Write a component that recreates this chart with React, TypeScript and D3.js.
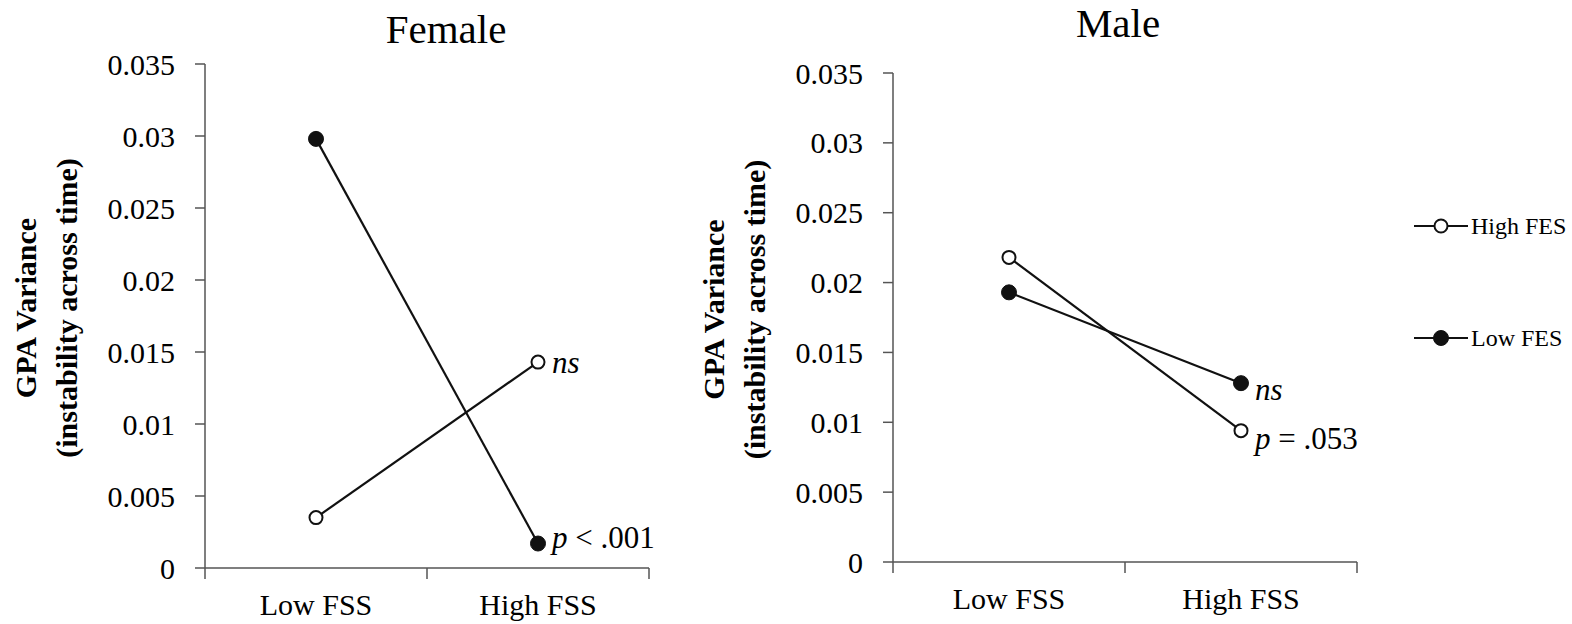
import * as d3 from 'd3'
import React from 'react'

const categories = ['Low FSS', 'High FSS']
const yTicks = [0, 0.005, 0.01, 0.015, 0.02, 0.025, 0.03, 0.035]

const femaleHighFES = [0.0035, 0.0143]
const femaleLowFES = [0.0298, 0.0017]
const maleHighFES = [0.0218, 0.0094]
const maleLowFES = [0.0193, 0.0128]

const serif = '"Liberation Serif", "Times New Roman", serif'
const axisColor = '#555'
const ink = '#111'

const Panel = ({ title, titleX, titleY, left, right, top, bottom, high, low, notes }) => {
  const x = d3.scaleBand().domain(categories).range([left, right])
  const y = d3.scaleLinear().domain([0, 0.035]).range([bottom, top])
  const cx = i => x(categories[i]) + x.bandwidth() / 2
  const line = d3.line().x((d, i) => cx(i)).y(d => y(d))
  const labelY = (top + bottom) / 2 - 8
  const edges = [left, ...categories.map(c => x(c) + x.bandwidth())]

  return (
    <g>
      <text x={titleX} y={titleY} fontSize={41} textAnchor="middle" fontFamily={serif}>{title}</text>
      <g transform={`translate(${left - 180},${labelY}) rotate(-90)`} fontFamily={serif} fontWeight="bold" fontSize={30} textAnchor="middle">
        <text x={0} y={0} dy="0.35em">GPA Variance</text>
        <text x={0} y={41} dy="0.35em">(instability across time)</text>
      </g>
      <line x1={left} x2={left} y1={top} y2={bottom} stroke={axisColor} strokeWidth={1.5} />
      {yTicks.map(t => (
        <g key={t}>
          <line x1={left - 10} x2={left} y1={y(t)} y2={y(t)} stroke={axisColor} strokeWidth={1.5} />
          <text x={left - 30} y={y(t)} dy="0.35em" textAnchor="end" fontSize={30} fontFamily={serif}>{t}</text>
        </g>
      ))}
      <line x1={left} x2={right} y1={bottom} y2={bottom} stroke={axisColor} strokeWidth={1.5} />
      {edges.map((e, i) => (
        <line key={i} x1={e} x2={e} y1={bottom} y2={bottom + 11} stroke={axisColor} strokeWidth={1.5} />
      ))}
      {categories.map(c => (
        <text key={c} x={x(c) + x.bandwidth() / 2} y={bottom + 47} textAnchor="middle" fontSize={30} fontFamily={serif}>{c}</text>
      ))}
      <path d={line(high)} fill="none" stroke={ink} strokeWidth={2.2} />
      <path d={line(low)} fill="none" stroke={ink} strokeWidth={2.2} />
      {high.map((v, i) => (
        <circle key={'h' + i} cx={cx(i)} cy={y(v)} r={6.5} fill="#fff" stroke={ink} strokeWidth={2} />
      ))}
      {low.map((v, i) => (
        <circle key={'l' + i} cx={cx(i)} cy={y(v)} r={7.5} fill={ink} stroke={ink} strokeWidth={1} />
      ))}
      {notes.map((n, i) => (
        <text key={i} x={cx(1) + 14} y={y(n.v) + n.shift} dy="0.35em" fontSize={31} fontFamily={serif}>
          {n.p ? <><tspan fontStyle="italic">p</tspan>{n.p}</> : <tspan fontStyle="italic">ns</tspan>}
        </text>
      ))}
    </g>
  )
}

const Legend = () => {
  const items = [{ label: 'High FES', filled: false, y: 226 }, { label: 'Low FES', filled: true, y: 338 }]
  return (
    <g>
      {items.map(it => (
        <g key={it.label}>
          <line x1={1414} x2={1468} y1={it.y} y2={it.y} stroke={ink} strokeWidth={2.2} />
          <circle cx={1441} cy={it.y} r={it.filled ? 7.5 : 6.5} fill={it.filled ? ink : '#fff'} stroke={ink} strokeWidth={it.filled ? 1 : 2} />
          <text x={1471} y={it.y} dy="0.35em" fontSize={24} fontFamily={serif}>{it.label}</text>
        </g>
      ))}
    </g>
  )
}

export default function App() {
  return (
    <div style={{ position: 'absolute', left: 0, top: 0 }}>
      <svg width={1572} height={624} style={{ display: 'block', background: '#fff' }}>
        <Panel title="Female" titleX={446} titleY={43} left={205} right={649} top={64} bottom={568}
          high={femaleHighFES} low={femaleLowFES}
          notes={[{ v: femaleHighFES[1], shift: 0 }, { v: femaleLowFES[1], p: ' < .001', shift: -6 }]} />
        <Panel title="Male" titleX={1118} titleY={37} left={893} right={1357} top={73} bottom={562}
          high={maleHighFES} low={maleLowFES}
          notes={[{ v: maleLowFES[1], shift: 6 }, { v: maleHighFES[1], p: ' = .053', shift: 7 }]} />
        <Legend />
      </svg>
    </div>
  )
}
